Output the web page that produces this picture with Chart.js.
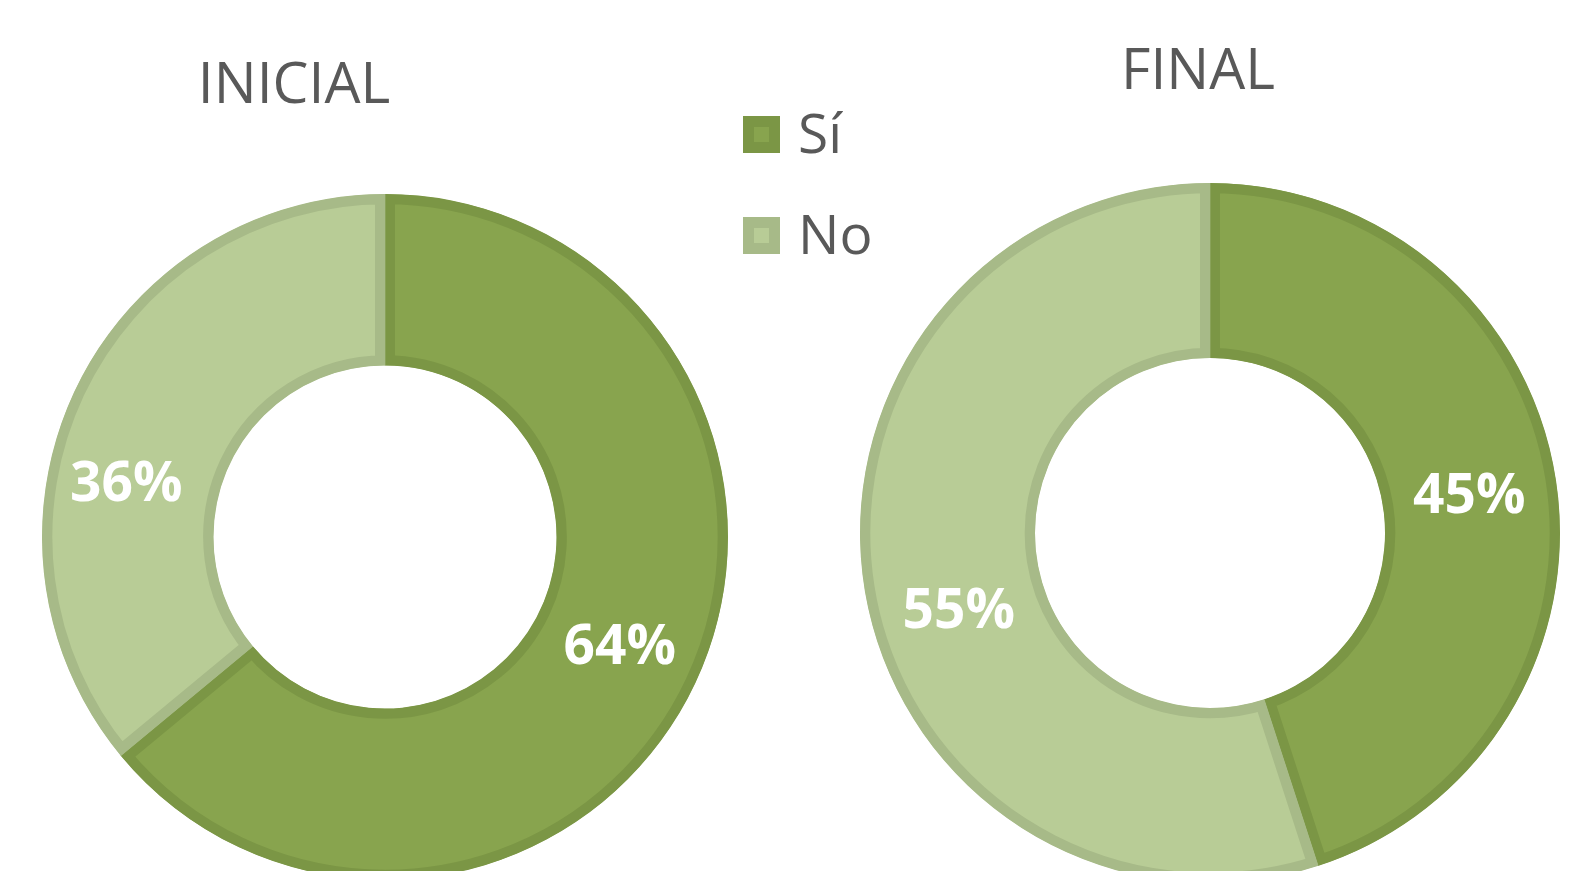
<!DOCTYPE html>
<html>
<head>
<meta charset="utf-8">
<script src="https://cdn.jsdelivr.net/npm/chart.js@4/dist/chart.umd.min.js"></script>
<style>
  html, body {
    margin: 0;
    padding: 0;
    width: 1583px;
    height: 871px;
    overflow: hidden;
    background: #ffffff;
    font-family: "Open Sans", sans-serif;
  }
  .wrap { position: absolute; }
  .title {
    position: absolute;
    font-size: 57px;
    line-height: 57px;
    color: #595959;
    text-align: center;
    white-space: nowrap;
  }
  .legend-item {
    position: absolute;
    left: 743px;
    height: 56px;
  }
  .legend-box {
    position: absolute;
    left: 0;
    width: 37px;
    height: 37px;
    box-sizing: border-box;
    border-style: solid;
    border-width: 11px;
  }
  .legend-text {
    position: absolute;
    font-size: 55px;
    line-height: 55px;
    color: #595959;
    white-space: nowrap;
  }
</style>
</head>
<body>
<div class="title" id="title-0" style="left:194px; top:53px; width:200px;"></div>
<div class="title" id="title-1" style="left:1098px; top:39px; width:200px;"></div>

<div id="legend"></div>

<div class="wrap" style="left:42px; top:194px; width:686px; height:686px;">
  <canvas id="chart-inicial"></canvas>
</div>
<div class="wrap" style="left:860px; top:183px; width:700px; height:700px;">
  <canvas id="chart-final"></canvas>
</div>

<script>
// Dados
const categories = ["Sí", "No"]
const inicialValues = [64, 36]
const finalValues = [45, 55]
const chartTitles = ["INICIAL", "FINAL"]

// Cores
const fillColors = ["#88a44e", "#b8cc96"]
const borderColors = ["#7b9645", "#a7ba88"]

// Plugin simples para os rótulos de percentagem
const percentLabels = {
  id: "percentLabels",
  afterDatasetsDraw(chart, args, opts) {
    const { ctx } = chart
    const meta = chart.getDatasetMeta(0)
    const values = chart.data.datasets[0].data
    ctx.save()
    ctx.fillStyle = "#ffffff"
    ctx.font = "bold 55px 'Open Sans', sans-serif"
    ctx.textAlign = "center"
    ctx.textBaseline = "middle"
    meta.data.forEach((arc, i) => {
      const pos = arc.tooltipPosition()
      const shift = (opts.shift && opts.shift[i]) || [0, 0]
      ctx.fillText(values[i] + "%", pos.x + shift[0], pos.y + shift[1])
    })
    ctx.restore()
  },
}

function makeDoughnut(canvasId, values, labelShift) {
  const ctx = document.getElementById(canvasId).getContext("2d")
  return new Chart(ctx, {
    type: "doughnut",
    data: {
      labels: categories,
      datasets: [
        {
          data: values,
          backgroundColor: fillColors,
          borderColor: borderColors,
          borderWidth: 10,
          borderAlign: "inner",
          borderJoinStyle: "miter",
          hoverOffset: 0,
        },
      ],
    },
    options: {
      responsive: true,
      maintainAspectRatio: false,
      animation: false,
      cutout: "50%",
      rotation: 0,
      layout: { padding: 0 },
      events: [],
      plugins: {
        legend: { display: false },
        tooltip: { enabled: false },
        title: { display: false },
        percentLabels: { shift: labelShift },
      },
    },
    plugins: [percentLabels],
  })
}

makeDoughnut("chart-inicial", inicialValues, [[2, 2], [-26, 58]])
makeDoughnut("chart-final", finalValues, [[0, 5], [8, 38]])

// Títulos
chartTitles.forEach((t, i) => {
  document.getElementById("title-" + i).textContent = t
})

// Legenda
const legend = document.getElementById("legend")
const legendTops = [116, 217]
categories.forEach((name, i) => {
  const item = document.createElement("div")
  item.className = "legend-item"
  item.style.top = legendTops[i] + "px"
  const box = document.createElement("div")
  box.className = "legend-box"
  box.style.top = "0px"
  box.style.background = fillColors[i]
  box.style.borderColor = borderColors[i]
  const text = document.createElement("div")
  text.className = "legend-text"
  text.style.left = "55px"
  text.style.top = "-12px"
  text.textContent = name
  item.appendChild(box)
  item.appendChild(text)
  legend.appendChild(item)
})
</script>
</body>
</html>
